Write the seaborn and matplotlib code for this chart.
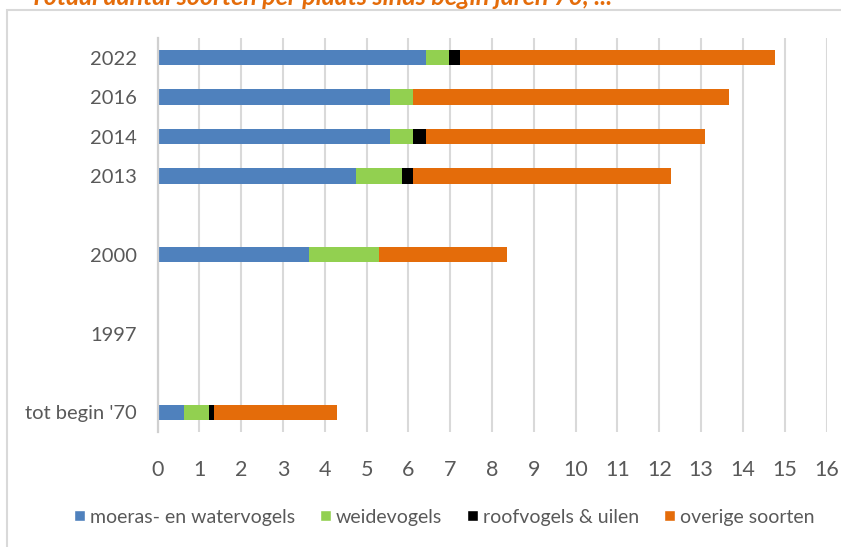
import numpy as np
import pandas as pd
import matplotlib
matplotlib.use("Agg")
import matplotlib.pyplot as plt
from matplotlib.patches import Patch, Rectangle
import seaborn as sns

# categories (blank rows are spacers, made unique with spaces)
jaren = ["2022", "2016", "2014", "2013", " ", "2000", "  ", "1997", "   ", "tot begin '70"]
groepen = ["moeras- en watervogels", "weidevogels", "roofvogels & uilen", "overige soorten"]

moeras = [6.41, 5.57, 5.57, 4.74, 0, 3.62, 0, 0, 0, 0.64]
weide = [0.55, 0.55, 0.55, 1.11, 0, 1.67, 0, 0, 0, 0.59]
roof = [0.28, 0.00, 0.29, 0.27, 0, 0.00, 0, 0, 0, 0.11]
overig = [7.54, 7.54, 6.69, 6.15, 0, 3.08, 0, 0, 0, 2.95]

kleuren = ["#4f81bd", "#92d050", "#000000", "#e46c0a"]

df = pd.DataFrame({"jaar": jaren, groepen[0]: moeras, groepen[1]: weide,
                   groepen[2]: roof, groepen[3]: overig})
cum = df[groepen].cumsum(axis=1)

sns.set_style("white")
plt.rcParams["font.family"] = ["Lato", "DejaVu Sans"]

fig = plt.figure(figsize=(8.41, 5.47), dpi=100)
ax = fig.add_axes([157.5 / 841, 1 - 432 / 547, (826.5 - 157.5) / 841, (432 - 38) / 547])

# stacked bars: draw cumulative totals from the back to the front
for g, c in zip(groepen[::-1], kleuren[::-1]):
    sns.barplot(x=cum[g], y=df["jaar"], orient="h", color=c, width=0.39,
                saturation=1, linewidth=0, ax=ax, zorder=3)

ax.set_xlim(0, 16)
ax.set_ylim(9.5, -0.5)
ax.set_xticks(range(0, 17))
ax.set_xlabel("")
ax.set_ylabel("")
ax.grid(axis="x", color="#d9d9d9", linewidth=1.5, zorder=0)
ax.set_axisbelow(True)
for s in ax.spines.values():
    s.set_visible(False)
# vertical axis line at 0
ax.spines["left"].set_visible(True)
ax.spines["left"].set_color("#d0d0d0")
ax.spines["left"].set_linewidth(1.6)
ax.spines["left"].set_zorder(5)
ax.tick_params(axis="x", length=0, labelsize=15.5, colors="#595959", pad=20)
ax.tick_params(axis="y", length=0, labelsize=14.5, colors="#595959", pad=15)

handles = [Patch(facecolor=c, label=g) for g, c in zip(groepen, kleuren)]
fig.legend(handles=handles, loc="center", bbox_to_anchor=(444 / 841, 1 - 517 / 547),
           ncol=4, frameon=False, fontsize=14, labelcolor="#595959",
           handlelength=0.55, handleheight=0.55, handletextpad=0.25, columnspacing=1.3)

# chart border and title (cut off at the top, as in the source picture)
fig.patches.append(Rectangle((7 / 841, -0.2), 1.2, 1 - 10 / 547 + 0.2, transform=fig.transFigure,
                             fill=False, edgecolor="#d9d9d9", linewidth=1.5))
fig.text(30 / 841, 1 - 5 / 547, "Totaal aantal soorten per plaats sinds begin jaren 70, ...",
         color="#e46c0a", fontsize=18, fontstyle="italic", fontweight="bold", va="baseline")

fig.savefig("out.png", dpi=100)
